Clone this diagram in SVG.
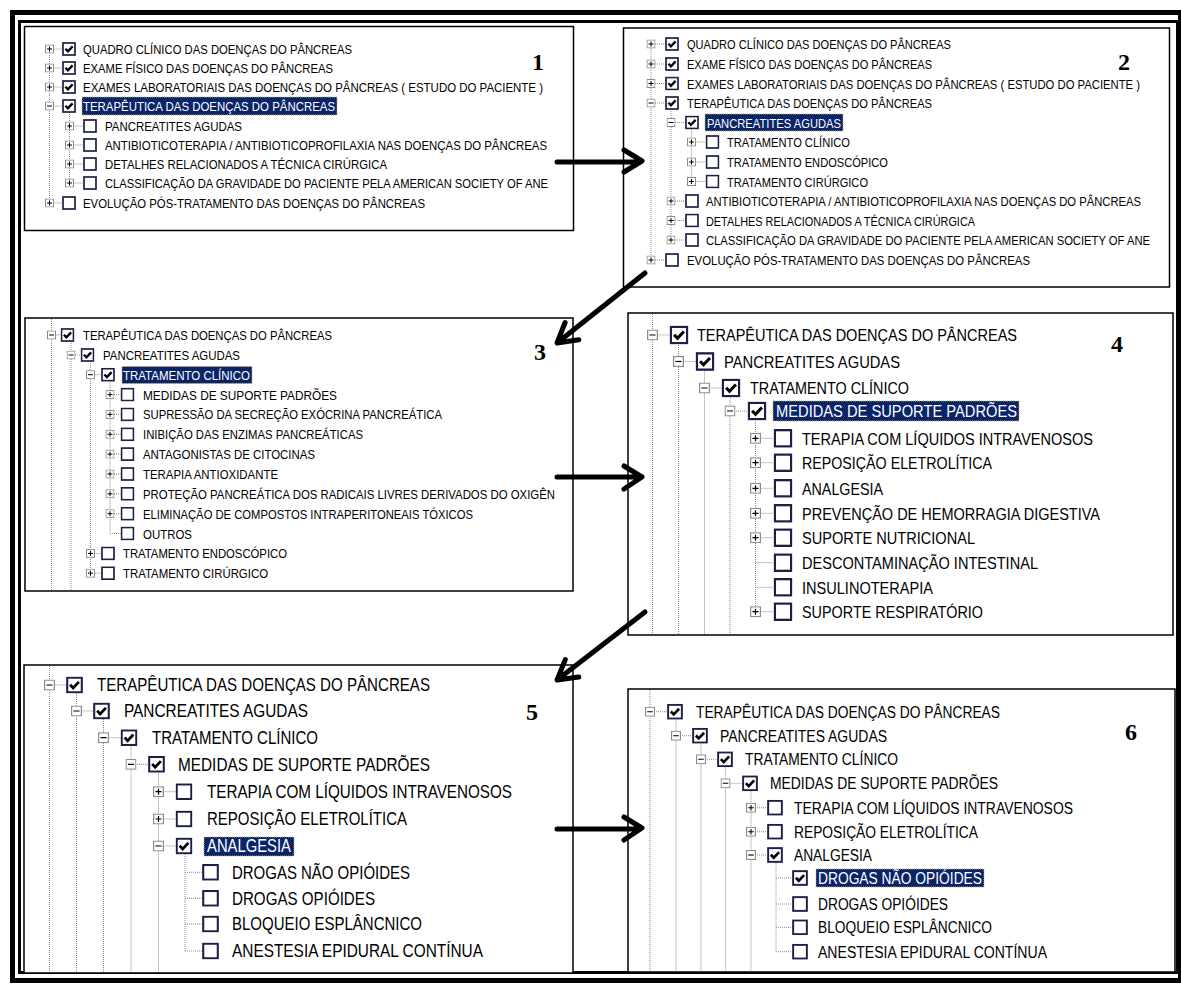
<svg xmlns="http://www.w3.org/2000/svg" xmlns:xlink="http://www.w3.org/1999/xlink" width="1181" height="985" viewBox="0 0 1181 985">
<style>
.t{font-family:"Liberation Sans",Arial,sans-serif;fill:#000}
.s1{font-size:13.5px}
.s2{font-size:12px}
.s4{font-size:17px}
.s5{font-size:17.5px}
.s6{font-size:16px}
.w{fill:#fff}
.hl{fill:#0a246a;stroke:#c8b060;stroke-width:1;stroke-dasharray:1 1}
.dl{stroke:#8c8c8c;stroke-width:1;stroke-dasharray:1 1;fill:none}
.pb{fill:#fff;stroke:#000;stroke-width:1.5}
.num{font-family:"Liberation Serif","Times New Roman",serif;font-weight:bold;font-size:24px;text-anchor:middle;fill:#000}
.arr{stroke:#000;stroke-width:5;fill:none;stroke-linecap:round;stroke-linejoin:round}
</style>
<defs>
<symbol id="pl" viewBox="0 0 9 9"><rect x="0.5" y="0.5" width="8" height="8" fill="#fff" stroke="#8c8c8c"/><path d="M2 4.5H7M4.5 2V7" stroke="#000" stroke-width="1"/></symbol>
<symbol id="mi" viewBox="0 0 9 9"><rect x="0.5" y="0.5" width="8" height="8" fill="#fff" stroke="#8c8c8c"/><path d="M2 4.5H7" stroke="#000" stroke-width="1"/></symbol>
<symbol id="cb" viewBox="0 0 14 14"><rect x="1" y="1" width="12" height="12" fill="#fff" stroke="#1c2048" stroke-width="1.7"/></symbol>
<symbol id="cbc" viewBox="0 0 14 14"><rect x="1" y="1" width="12" height="12" fill="#fff" stroke="#1c2048" stroke-width="1.7"/><path d="M3.4 6.8L5.9 9.4L10.6 4.4" fill="none" stroke="#000" stroke-width="2.3"/></symbol>
<clipPath id="c2"><rect x="624" y="29" width="526" height="257"/></clipPath>
</defs>
<rect width="1181" height="985" fill="#fff"/>
<g id="frame" fill="none" stroke="#000">
<rect x="12.5" y="12.5" width="1168" height="968" stroke-width="5"/>
<rect x="19.5" y="21.5" width="1158" height="951" stroke-width="3"/>
</g>

<g id="panel1">
<rect class="pb" x="24.5" y="26.5" width="549" height="204"/>
<path class="dl" d="M49.5 49V203M69.5 106V183M49.5 49H62M49.5 68H62M49.5 87H62M49.5 106H62M69.5 126H83M69.5 145H83M69.5 164H83M69.5 183H83M49.5 203H62"/>
<use href="#pl" x="45" y="44.5" width="9" height="9"/>
<use href="#pl" x="45" y="63.5" width="9" height="9"/>
<use href="#pl" x="45" y="82.5" width="9" height="9"/>
<use href="#mi" x="45" y="101.5" width="9" height="9"/>
<use href="#pl" x="65" y="121.5" width="9" height="9"/>
<use href="#pl" x="65" y="140.5" width="9" height="9"/>
<use href="#pl" x="65" y="159.5" width="9" height="9"/>
<use href="#pl" x="65" y="178.5" width="9" height="9"/>
<use href="#pl" x="45" y="198.5" width="9" height="9"/>
<use href="#cbc" x="62" y="42" width="14" height="14"/>
<use href="#cbc" x="62" y="61" width="14" height="14"/>
<use href="#cbc" x="62" y="80" width="14" height="14"/>
<use href="#cbc" x="62" y="99" width="14" height="14"/>
<use href="#cb" x="83" y="119" width="14" height="14"/>
<use href="#cb" x="83" y="138" width="14" height="14"/>
<use href="#cb" x="83" y="157" width="14" height="14"/>
<use href="#cb" x="83" y="176" width="14" height="14"/>
<use href="#cb" x="62" y="196" width="14" height="14"/>
<rect class="hl" x="82" y="97" width="255" height="18"/>
<text class="t s1" x="83" y="54" textLength="269" lengthAdjust="spacingAndGlyphs">QUADRO CLÍNICO DAS DOENÇAS DO PÂNCREAS</text>
<text class="t s1" x="83" y="73" textLength="250" lengthAdjust="spacingAndGlyphs">EXAME FÍSICO DAS DOENÇAS DO PÂNCREAS</text>
<text class="t s1" x="83" y="92" textLength="460" lengthAdjust="spacingAndGlyphs">EXAMES LABORATORIAIS DAS DOENÇAS DO PÂNCREAS ( ESTUDO DO PACIENTE )</text>
<text class="t s1 w" x="83" y="111" textLength="252" lengthAdjust="spacingAndGlyphs">TERAPÊUTICA DAS DOENÇAS DO PÂNCREAS</text>
<text class="t s1" x="105" y="131" textLength="137" lengthAdjust="spacingAndGlyphs">PANCREATITES AGUDAS</text>
<text class="t s1" x="105" y="150" textLength="442" lengthAdjust="spacingAndGlyphs">ANTIBIOTICOTERAPIA / ANTIBIOTICOPROFILAXIA NAS DOENÇAS DO PÂNCREAS</text>
<text class="t s1" x="105" y="169" textLength="282" lengthAdjust="spacingAndGlyphs">DETALHES RELACIONADOS A TÉCNICA CIRÚRGICA</text>
<text class="t s1" x="105" y="188" textLength="443" lengthAdjust="spacingAndGlyphs">CLASSIFICAÇÃO DA GRAVIDADE DO PACIENTE PELA AMERICAN SOCIETY OF ANE</text>
<text class="t s1" x="83" y="208" textLength="342" lengthAdjust="spacingAndGlyphs">EVOLUÇÃO PÓS-TRATAMENTO DAS DOENÇAS DO PÂNCREAS</text>
<text class="num" x="538" y="70">1</text>
</g>

<g id="panel2">
<rect class="pb" x="623.5" y="28" width="546" height="259"/>
<path class="dl" d="M651 44V260M671 103V240M691.5 122.5V181.5M651 44H665M651 64H665M651 83.5H665M651 103H665M671 122.5H685M691.5 142H705.5M691.5 162H705.5M691.5 181.5H705.5M671 201H685M671 220.5H685M671 240H685M651 260H665"/>
<use href="#pl" x="646.5" y="39.5" width="9" height="9"/>
<use href="#pl" x="646.5" y="59.5" width="9" height="9"/>
<use href="#pl" x="646.5" y="79" width="9" height="9"/>
<use href="#mi" x="646.5" y="98.5" width="9" height="9"/>
<use href="#mi" x="666.5" y="118" width="9" height="9"/>
<use href="#pl" x="687" y="137.5" width="9" height="9"/>
<use href="#pl" x="687" y="157.5" width="9" height="9"/>
<use href="#pl" x="687" y="177" width="9" height="9"/>
<use href="#pl" x="666.5" y="196.5" width="9" height="9"/>
<use href="#pl" x="666.5" y="216" width="9" height="9"/>
<use href="#pl" x="666.5" y="235.5" width="9" height="9"/>
<use href="#pl" x="646.5" y="255.5" width="9" height="9"/>
<use href="#cbc" x="665" y="37" width="14" height="14"/>
<use href="#cbc" x="665" y="57" width="14" height="14"/>
<use href="#cbc" x="665" y="76.5" width="14" height="14"/>
<use href="#cbc" x="665" y="96" width="14" height="14"/>
<use href="#cbc" x="685" y="115.5" width="14" height="14"/>
<use href="#cb" x="705.5" y="135" width="14" height="14"/>
<use href="#cb" x="705.5" y="155" width="14" height="14"/>
<use href="#cb" x="705.5" y="174.5" width="14" height="14"/>
<use href="#cb" x="685" y="194" width="14" height="14"/>
<use href="#cb" x="685" y="213.5" width="14" height="14"/>
<use href="#cb" x="685" y="233" width="14" height="14"/>
<use href="#cb" x="665" y="253" width="14" height="14"/>
<rect class="hl" x="705" y="114" width="138" height="17"/>
<text class="t s1" x="687" y="49" textLength="264" lengthAdjust="spacingAndGlyphs">QUADRO CLÍNICO DAS DOENÇAS DO PÂNCREAS</text>
<text class="t s1" x="687" y="69" textLength="245" lengthAdjust="spacingAndGlyphs">EXAME FÍSICO DAS DOENÇAS DO PÂNCREAS</text>
<text class="t s2" x="687" y="88.5" textLength="453" lengthAdjust="spacingAndGlyphs">EXAMES LABORATORIAIS DAS DOENÇAS DO PÂNCREAS ( ESTUDO DO PACIENTE )</text>
<text class="t s1" x="687" y="108" textLength="245" lengthAdjust="spacingAndGlyphs">TERAPÊUTICA DAS DOENÇAS DO PÂNCREAS</text>
<text class="t s1 w" x="707" y="127.5" textLength="134" lengthAdjust="spacingAndGlyphs">PANCREATITES AGUDAS</text>
<text class="t s1" x="727" y="147" textLength="123" lengthAdjust="spacingAndGlyphs">TRATAMENTO CLÍNICO</text>
<text class="t s1" x="727" y="167" textLength="161" lengthAdjust="spacingAndGlyphs">TRATAMENTO ENDOSCÓPICO</text>
<text class="t s1" x="727" y="186.5" textLength="141" lengthAdjust="spacingAndGlyphs">TRATAMENTO CIRÚRGICO</text>
<text class="t s2" x="706" y="206" textLength="435" lengthAdjust="spacingAndGlyphs">ANTIBIOTICOTERAPIA / ANTIBIOTICOPROFILAXIA NAS DOENÇAS DO PÂNCREAS</text>
<text class="t s1" x="706" y="225.5" textLength="269" lengthAdjust="spacingAndGlyphs">DETALHES RELACIONADOS A TÉCNICA CIRÚRGICA</text>
<text class="t s2" x="706" y="245" textLength="444" lengthAdjust="spacingAndGlyphs">CLASSIFICAÇÃO DA GRAVIDADE DO PACIENTE PELA AMERICAN SOCIETY OF ANE</text>
<text class="t s1" x="687" y="265" textLength="343" lengthAdjust="spacingAndGlyphs">EVOLUÇÃO PÓS-TRATAMENTO DAS DOENÇAS DO PÂNCREAS</text>
<text class="num" x="1124" y="70">2</text>
</g>

<g id="panel3">
<rect class="pb" x="25" y="318" width="548" height="273"/>
<path class="dl" d="M51.5 319V590M71 335V590M90.5 355V573.2M110 374.7V533.5M51.5 335H60.5M71 355H80.5M90.5 374.7H101M110 394.6H120.5M110 414.4H120.5M110 434.3H120.5M110 454.1H120.5M110 474H120.5M110 493.8H120.5M110 513.7H120.5M110 533.5H120.5M90.5 553.4H101M90.5 573.2H101"/>
<use href="#mi" x="47" y="330.5" width="9" height="9"/>
<use href="#mi" x="66.5" y="350.5" width="9" height="9"/>
<use href="#mi" x="86" y="370.2" width="9" height="9"/>
<use href="#pl" x="105.5" y="390.1" width="9" height="9"/>
<use href="#pl" x="105.5" y="409.9" width="9" height="9"/>
<use href="#pl" x="105.5" y="429.8" width="9" height="9"/>
<use href="#pl" x="105.5" y="449.6" width="9" height="9"/>
<use href="#pl" x="105.5" y="469.5" width="9" height="9"/>
<use href="#pl" x="105.5" y="489.3" width="9" height="9"/>
<use href="#pl" x="105.5" y="509.2" width="9" height="9"/>
<use href="#pl" x="86" y="548.9" width="9" height="9"/>
<use href="#pl" x="86" y="568.7" width="9" height="9"/>
<use href="#cbc" x="60.5" y="328" width="14" height="14"/>
<use href="#cbc" x="80.5" y="348" width="14" height="14"/>
<use href="#cbc" x="101" y="367.7" width="14" height="14"/>
<use href="#cb" x="120.5" y="387.6" width="14" height="14"/>
<use href="#cb" x="120.5" y="407.4" width="14" height="14"/>
<use href="#cb" x="120.5" y="427.3" width="14" height="14"/>
<use href="#cb" x="120.5" y="447.1" width="14" height="14"/>
<use href="#cb" x="120.5" y="467" width="14" height="14"/>
<use href="#cb" x="120.5" y="486.8" width="14" height="14"/>
<use href="#cb" x="120.5" y="506.7" width="14" height="14"/>
<use href="#cb" x="120.5" y="526.5" width="14" height="14"/>
<use href="#cb" x="101" y="546.4" width="14" height="14"/>
<use href="#cb" x="101" y="566.2" width="14" height="14"/>
<rect class="hl" x="122" y="366.5" width="130" height="17"/>
<text class="t s1" x="83" y="340" textLength="249" lengthAdjust="spacingAndGlyphs">TERAPÊUTICA DAS DOENÇAS DO PÂNCREAS</text>
<text class="t s1" x="103" y="360" textLength="137" lengthAdjust="spacingAndGlyphs">PANCREATITES AGUDAS</text>
<text class="t s1 w" x="123" y="379.7" textLength="127" lengthAdjust="spacingAndGlyphs">TRATAMENTO CLÍNICO</text>
<text class="t s1" x="143" y="399.6" textLength="194" lengthAdjust="spacingAndGlyphs">MEDIDAS DE SUPORTE PADRÕES</text>
<text class="t s1" x="143" y="419.4" textLength="299" lengthAdjust="spacingAndGlyphs">SUPRESSÃO DA SECREÇÃO EXÓCRINA PANCREÁTICA</text>
<text class="t s1" x="143" y="439.3" textLength="220" lengthAdjust="spacingAndGlyphs">INIBIÇÃO DAS ENZIMAS PANCREÁTICAS</text>
<text class="t s1" x="143" y="459.1" textLength="172" lengthAdjust="spacingAndGlyphs">ANTAGONISTAS DE CITOCINAS</text>
<text class="t s1" x="143" y="479" textLength="135" lengthAdjust="spacingAndGlyphs">TERAPIA ANTIOXIDANTE</text>
<text class="t s1" x="143" y="498.8" textLength="412" lengthAdjust="spacingAndGlyphs">PROTEÇÃO PANCREÁTICA DOS RADICAIS LIVRES DERIVADOS DO OXIGÊN</text>
<text class="t s1" x="143" y="518.7" textLength="330" lengthAdjust="spacingAndGlyphs">ELIMINAÇÃO DE COMPOSTOS INTRAPERITONEAIS TÓXICOS</text>
<text class="t s1" x="143" y="538.5" textLength="49" lengthAdjust="spacingAndGlyphs">OUTROS</text>
<text class="t s1" x="123" y="558.4" textLength="164" lengthAdjust="spacingAndGlyphs">TRATAMENTO ENDOSCÓPICO</text>
<text class="t s1" x="123" y="578.2" textLength="145" lengthAdjust="spacingAndGlyphs">TRATAMENTO CIRÚRGICO</text>
<text class="num" x="540" y="360">3</text>
</g>

<g id="panel4">
<rect class="pb" x="628" y="313" width="545" height="322"/>
<path class="dl" d="M652.5 314V634M678.5 335V634M704.5 361.5V634M730 388V634M755.5 411V611.7M652.5 335H669.5M678.5 361.5H695.5M704.5 388H721.5M730 411H747.5M755.5 438.3H773.5M755.5 462.7H773.5M755.5 488.3H773.5M755.5 513.3H773.5M755.5 537.7H773.5M755.5 562.7H773.5M755.5 587.3H773.5M755.5 611.7H773.5"/>
<use href="#mi" x="647" y="329.5" width="11" height="11"/>
<use href="#mi" x="673" y="356" width="11" height="11"/>
<use href="#mi" x="699" y="382.5" width="11" height="11"/>
<use href="#mi" x="724.5" y="405.5" width="11" height="11"/>
<use href="#pl" x="750" y="432.8" width="11" height="11"/>
<use href="#pl" x="750" y="457.2" width="11" height="11"/>
<use href="#pl" x="750" y="482.8" width="11" height="11"/>
<use href="#pl" x="750" y="507.8" width="11" height="11"/>
<use href="#pl" x="750" y="532.2" width="11" height="11"/>
<use href="#pl" x="750" y="606.2" width="11" height="11"/>
<use href="#cbc" x="669.5" y="325.5" width="19" height="19"/>
<use href="#cbc" x="695.5" y="352" width="19" height="19"/>
<use href="#cbc" x="721.5" y="378.5" width="19" height="19"/>
<use href="#cbc" x="747.5" y="401.5" width="19" height="19"/>
<use href="#cb" x="773.5" y="428.8" width="19" height="19"/>
<use href="#cb" x="773.5" y="453.2" width="19" height="19"/>
<use href="#cb" x="773.5" y="478.8" width="19" height="19"/>
<use href="#cb" x="773.5" y="503.8" width="19" height="19"/>
<use href="#cb" x="773.5" y="528.2" width="19" height="19"/>
<use href="#cb" x="773.5" y="553.2" width="19" height="19"/>
<use href="#cb" x="773.5" y="577.8" width="19" height="19"/>
<use href="#cb" x="773.5" y="602.2" width="19" height="19"/>
<rect class="hl" x="773" y="401" width="246" height="20"/>
<text class="t s4" x="697" y="341.2" textLength="320" lengthAdjust="spacingAndGlyphs">TERAPÊUTICA DAS DOENÇAS DO PÂNCREAS</text>
<text class="t s4" x="724" y="367.7" textLength="176" lengthAdjust="spacingAndGlyphs">PANCREATITES AGUDAS</text>
<text class="t s4" x="750" y="394.2" textLength="159" lengthAdjust="spacingAndGlyphs">TRATAMENTO CLÍNICO</text>
<text class="t s4 w" x="776" y="417.2" textLength="241" lengthAdjust="spacingAndGlyphs">MEDIDAS DE SUPORTE PADRÕES</text>
<text class="t s4" x="802" y="444.5" textLength="291" lengthAdjust="spacingAndGlyphs">TERAPIA COM LÍQUIDOS INTRAVENOSOS</text>
<text class="t s4" x="802" y="468.9" textLength="190" lengthAdjust="spacingAndGlyphs">REPOSIÇÃO ELETROLÍTICA</text>
<text class="t s4" x="802" y="494.5" textLength="81" lengthAdjust="spacingAndGlyphs">ANALGESIA</text>
<text class="t s4" x="802" y="519.5" textLength="298" lengthAdjust="spacingAndGlyphs">PREVENÇÃO DE HEMORRAGIA DIGESTIVA</text>
<text class="t s4" x="802" y="543.9" textLength="173" lengthAdjust="spacingAndGlyphs">SUPORTE NUTRICIONAL</text>
<text class="t s4" x="802" y="568.9" textLength="236" lengthAdjust="spacingAndGlyphs">DESCONTAMINAÇÃO INTESTINAL</text>
<text class="t s4" x="802" y="593.5" textLength="131" lengthAdjust="spacingAndGlyphs">INSULINOTERAPIA</text>
<text class="t s4" x="802" y="617.9" textLength="181" lengthAdjust="spacingAndGlyphs">SUPORTE RESPIRATÓRIO</text>
<text class="num" x="1117" y="352">4</text>
</g>

<g id="panel5">
<rect class="pb" x="24" y="665" width="549" height="308"/>
<path class="dl" d="M49.5 666V972M76.5 685V972M103.5 711V972M131 737.7V972M158.5 764.3V972M185 846V951M49.5 685H66M76.5 711H93M103.5 737.7H120.5M131 764.3H148M158.5 791.7H175.5M158.5 819H175.5M158.5 846H175.5M185 872.3H202M185 898.3H202M185 924H202M185 951H202"/>
<use href="#mi" x="44" y="679.5" width="11" height="11"/>
<use href="#mi" x="71" y="705.5" width="11" height="11"/>
<use href="#mi" x="98" y="732.2" width="11" height="11"/>
<use href="#mi" x="125.5" y="758.8" width="11" height="11"/>
<use href="#pl" x="153" y="786.2" width="11" height="11"/>
<use href="#pl" x="153" y="813.5" width="11" height="11"/>
<use href="#mi" x="153" y="840.5" width="11" height="11"/>
<use href="#cbc" x="66" y="676.5" width="17" height="17"/>
<use href="#cbc" x="93" y="702.5" width="17" height="17"/>
<use href="#cbc" x="120.5" y="729.2" width="17" height="17"/>
<use href="#cbc" x="148" y="755.8" width="17" height="17"/>
<use href="#cb" x="175.5" y="783.2" width="17" height="17"/>
<use href="#cb" x="175.5" y="810.5" width="17" height="17"/>
<use href="#cbc" x="175.5" y="837.5" width="17" height="17"/>
<use href="#cb" x="202" y="863.8" width="17" height="17"/>
<use href="#cb" x="202" y="889.8" width="17" height="17"/>
<use href="#cb" x="202" y="915.5" width="17" height="17"/>
<use href="#cb" x="202" y="942.5" width="17" height="17"/>
<rect class="hl" x="204" y="837" width="90" height="19"/>
<text class="t s5" x="97" y="691.3" textLength="333" lengthAdjust="spacingAndGlyphs">TERAPÊUTICA DAS DOENÇAS DO PÂNCREAS</text>
<text class="t s5" x="124" y="717.3" textLength="184" lengthAdjust="spacingAndGlyphs">PANCREATITES AGUDAS</text>
<text class="t s5" x="152" y="744" textLength="166" lengthAdjust="spacingAndGlyphs">TRATAMENTO CLÍNICO</text>
<text class="t s5" x="178" y="770.6" textLength="252" lengthAdjust="spacingAndGlyphs">MEDIDAS DE SUPORTE PADRÕES</text>
<text class="t s5" x="207" y="798" textLength="305" lengthAdjust="spacingAndGlyphs">TERAPIA COM LÍQUIDOS INTRAVENOSOS</text>
<text class="t s5" x="207" y="825.3" textLength="200" lengthAdjust="spacingAndGlyphs">REPOSIÇÃO ELETROLÍTICA</text>
<text class="t s5 w" x="207" y="852.3" textLength="84" lengthAdjust="spacingAndGlyphs">ANALGESIA</text>
<text class="t s5" x="232" y="878.6" textLength="178" lengthAdjust="spacingAndGlyphs">DROGAS NÃO OPIÓIDES</text>
<text class="t s5" x="232" y="904.6" textLength="143" lengthAdjust="spacingAndGlyphs">DROGAS OPIÓIDES</text>
<text class="t s5" x="232" y="930.3" textLength="190" lengthAdjust="spacingAndGlyphs">BLOQUEIO ESPLÂNCNICO</text>
<text class="t s5" x="232" y="957.3" textLength="251" lengthAdjust="spacingAndGlyphs">ANESTESIA EPIDURAL CONTÍNUA</text>
<text class="num" x="532" y="720">5</text>
</g>

<g id="panel6">
<rect class="pb" x="628" y="689" width="547" height="283"/>
<path class="dl" d="M650 690V971M676 711.7V971M701 735.7V971M725.5 759.3V971M751 783.3V971M776 855V951.7M650 711.7H667M676 735.7H692M701 759.3H717M725.5 783.3H742M751 807.7H767M751 831.7H767M751 855H767M776 878H792M776 904H792M776 927.3H792M776 951.7H792"/>
<use href="#mi" x="645" y="706.7" width="10" height="10"/>
<use href="#mi" x="671" y="730.7" width="10" height="10"/>
<use href="#mi" x="696" y="754.3" width="10" height="10"/>
<use href="#mi" x="720.5" y="778.3" width="10" height="10"/>
<use href="#pl" x="746" y="802.7" width="10" height="10"/>
<use href="#pl" x="746" y="826.7" width="10" height="10"/>
<use href="#mi" x="746" y="850" width="10" height="10"/>
<use href="#cbc" x="667" y="703.7" width="16" height="16"/>
<use href="#cbc" x="692" y="727.7" width="16" height="16"/>
<use href="#cbc" x="717" y="751.3" width="16" height="16"/>
<use href="#cbc" x="742" y="775.3" width="16" height="16"/>
<use href="#cb" x="767" y="799.7" width="16" height="16"/>
<use href="#cb" x="767" y="823.7" width="16" height="16"/>
<use href="#cbc" x="767" y="847" width="16" height="16"/>
<use href="#cbc" x="792" y="870" width="16" height="16"/>
<use href="#cb" x="792" y="896" width="16" height="16"/>
<use href="#cb" x="792" y="919.3" width="16" height="16"/>
<use href="#cb" x="792" y="943.7" width="16" height="16"/>
<rect class="hl" x="816" y="869" width="168" height="18"/>
<text class="t s6" x="696" y="717.5" textLength="304" lengthAdjust="spacingAndGlyphs">TERAPÊUTICA DAS DOENÇAS DO PÂNCREAS</text>
<text class="t s6" x="720" y="741.5" textLength="167" lengthAdjust="spacingAndGlyphs">PANCREATITES AGUDAS</text>
<text class="t s6" x="745" y="765.1" textLength="153" lengthAdjust="spacingAndGlyphs">TRATAMENTO CLÍNICO</text>
<text class="t s6" x="770" y="789.1" textLength="228" lengthAdjust="spacingAndGlyphs">MEDIDAS DE SUPORTE PADRÕES</text>
<text class="t s6" x="794" y="813.5" textLength="279" lengthAdjust="spacingAndGlyphs">TERAPIA COM LÍQUIDOS INTRAVENOSOS</text>
<text class="t s6" x="794" y="837.5" textLength="184" lengthAdjust="spacingAndGlyphs">REPOSIÇÃO ELETROLÍTICA</text>
<text class="t s6" x="794" y="860.8" textLength="78" lengthAdjust="spacingAndGlyphs">ANALGESIA</text>
<text class="t s6 w" x="818" y="883.8" textLength="164" lengthAdjust="spacingAndGlyphs">DROGAS NÃO OPIÓIDES</text>
<text class="t s6" x="818" y="909.8" textLength="130" lengthAdjust="spacingAndGlyphs">DROGAS OPIÓIDES</text>
<text class="t s6" x="818" y="933.1" textLength="174" lengthAdjust="spacingAndGlyphs">BLOQUEIO ESPLÂNCNICO</text>
<text class="t s6" x="818" y="957.5" textLength="229" lengthAdjust="spacingAndGlyphs">ANESTESIA EPIDURAL CONTÍNUA</text>
<text class="num" x="1131" y="740">6</text>
</g>

<g id="connectors" class="arr">
<path d="M557 162H640M624 150L642 161L624 172"/>
<path d="M645 273L557 343M578.8 339.7L557 343L565.1 322.5"/>
<path d="M557 477H640M624 466L642 477L624 489"/>
<path d="M645 612L557 680M578.8 677.1L557 680L565.3 659.6"/>
<path d="M557 829H640M624 817L642 828L624 840"/>
</g>
</svg>
